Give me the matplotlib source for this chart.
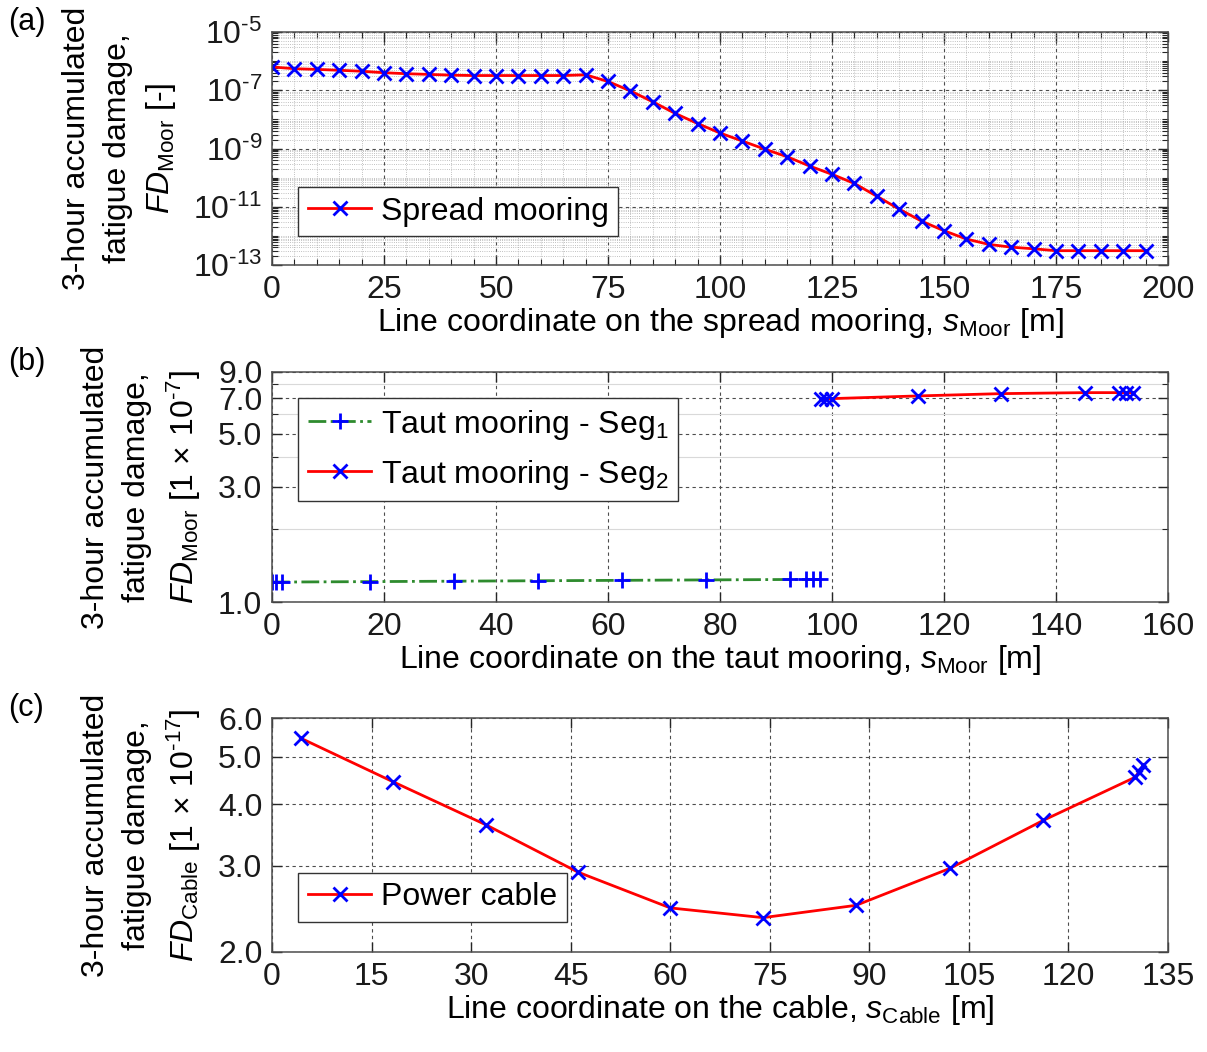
import matplotlib
matplotlib.use("Agg")
import matplotlib.pyplot as plt
from matplotlib.ticker import FixedLocator, NullFormatter, FormatStrFormatter, FuncFormatter
import math

plt.rcParams["font.family"] = ["Liberation Sans", "DejaVu Sans"]
plt.rcParams["mathtext.fontset"] = "custom"
plt.rcParams["mathtext.rm"] = "Liberation Sans"
plt.rcParams["mathtext.it"] = "Liberation Sans:italic"
plt.rcParams["font.size"] = 23

# (a) spread mooring
s_spread = [0, 5, 10, 15, 20, 25, 30, 35, 40, 45, 50, 55, 60, 65, 70, 75, 80, 85, 90, 95,
            100, 105, 110, 115, 120, 125, 130, 135, 140, 145, 150, 155, 160, 165, 170, 175,
            180, 185, 190, 195]
fd_spread = [6.3e-7, 5.5e-7, 5.2e-7, 4.85e-7, 4.5e-7, 4.0e-7, 3.7e-7, 3.5e-7, 3.3e-7, 3.2e-7,
             3.2e-7, 3.2e-7, 3.2e-7, 3.2e-7, 3.4e-7, 2.0e-7, 9.5e-8, 4.0e-8, 1.6e-8, 7.2e-9,
             3.4e-9, 1.8e-9, 9.5e-10, 5.2e-10, 2.5e-10, 1.3e-10, 6.3e-11, 2.3e-11, 8.3e-12, 3.2e-12,
             1.5e-12, 7.8e-13, 5.1e-13, 4.1e-13, 3.6e-13, 3.1e-13, 3.1e-13, 3.1e-13, 3.1e-13, 3.1e-13]

# (b) taut mooring, units of 1e-7
s_seg1 = [0, 0.8, 1.7, 17.5, 32.5, 47.5, 62.5, 77.5, 92.5, 95.3, 96.6, 97.9]
fd_seg1 = [1.21, 1.21, 1.21, 1.215, 1.22, 1.225, 1.23, 1.235, 1.24, 1.24, 1.24, 1.24]
s_seg2 = [98.0, 99.0, 100.0, 115.3, 130.2, 145.1, 151.2, 152.5, 153.8]
fd_seg2 = [6.98, 6.98, 6.98, 7.16, 7.32, 7.39, 7.39, 7.39, 7.39]

# (c) power cable, units of 1e-17
s_cable = [4.3, 18.2, 32.3, 46.1, 60.0, 74.0, 88.0, 102.1, 116.2, 130.0, 130.6, 131.3]
fd_cable = [5.46, 4.45, 3.63, 2.91, 2.46, 2.35, 2.49, 2.96, 3.71, 4.54, 4.65, 4.82]

ylabel_top = "3-hour accumulated\nfatigue damage,\n"


def pow10(v, pos):
    e = int(round(math.log10(v)))
    return r"$10^{\text{%d}}$" % e


fig = plt.figure(figsize=(12.07, 10.52), dpi=100)
left, width = 272 / 1207, 896 / 1207
ax_a = fig.add_axes([left, 1 - 265 / 1052, width, 233 / 1052])
ax_b = fig.add_axes([left, 1 - 602 / 1052, width, 230 / 1052])
ax_c = fig.add_axes([left, 1 - 952 / 1052, width, 234 / 1052])

major_grid = dict(color="0.3", linestyle=(0, (3, 3)), linewidth=0.8)
minor_grid = dict(color="0.68", linestyle=":", linewidth=0.6)

for ax in (ax_a, ax_b, ax_c):
    ax.set_yscale("log")
    ax.tick_params(which="both", direction="in", top=True, right=True, colors="0.15",
                   labelcolor="0.1")
    ax.tick_params(which="major", length=7, width=1, pad=7)
    ax.tick_params(which="minor", length=4, width=0.8)
    for sp in ax.spines.values():
        sp.set_color("0.3")
        sp.set_linewidth(1.1)

mk = dict(ms=10.5, mew=2, mec="blue")
leg = dict(borderaxespad=0, fancybox=False, edgecolor="0.2", framealpha=1,
           handlelength=2.0, borderpad=0.3, handletextpad=0.3)

# ---- (a)
ax_a.plot(s_spread, fd_spread, color="red", lw=2, marker="x", label="Spread mooring", **mk)
ax_a.set_xlim(0, 200)
ax_a.set_ylim(1e-13, 1e-5)
ax_a.set_xticks(range(0, 201, 25))
ax_a.xaxis.set_minor_locator(FixedLocator([x for x in range(0, 201, 5) if x % 25]))
ax_a.yaxis.set_major_locator(FixedLocator([1e-13, 1e-11, 1e-9, 1e-7, 1e-5]))
ax_a.yaxis.set_major_formatter(FuncFormatter(pow10))
minors = [m * 10.0 ** e for e in range(-13, -5) for m in range(1, 10)]
minors = [v for v in minors if v not in (1e-13, 1e-11, 1e-9, 1e-7)]
ax_a.yaxis.set_minor_locator(FixedLocator(minors))
ax_a.yaxis.set_minor_formatter(NullFormatter())
ax_a.grid(which="minor", **minor_grid)
ax_a.grid(which="major", **major_grid)
ax_a.set_axisbelow(True)
ax_a.set_xlabel(r"Line coordinate on the spread mooring, $\it{s}_{\rm Moor}$ [m]", labelpad=1)
ax_a.set_ylabel(ylabel_top + r"$\it{FD}_{\rm Moor}$ [-]", linespacing=1.45)
ax_a.legend(loc="lower left", bbox_to_anchor=(0.029, 0.124), **leg)

# ---- (b)
ax_b.plot(s_seg1, fd_seg1, color="#2e8b2e", lw=2, ls="-.", marker="+",
          label=r"Taut mooring - Seg$_1$", ms=12, mew=2, mec="blue")
ax_b.plot(s_seg2, fd_seg2, color="red", lw=2, marker="x",
          label=r"Taut mooring - Seg$_2$", **mk)
ax_b.set_xlim(0, 160)
ax_b.set_ylim(1.0, 9.0)
ax_b.set_xticks(range(0, 161, 20))
ax_b.yaxis.set_major_locator(FixedLocator([1, 3, 5, 7, 9]))
ax_b.yaxis.set_major_formatter(FormatStrFormatter("%.1f"))
ax_b.yaxis.set_minor_locator(FixedLocator([2, 4, 6, 8]))
ax_b.yaxis.set_minor_formatter(NullFormatter())
ax_b.grid(which="minor", axis="y", color="0.85", linestyle="-", linewidth=0.8)
ax_b.grid(which="major", **major_grid)
ax_b.set_axisbelow(True)
ax_b.set_xlabel(r"Line coordinate on the taut mooring, $\it{s}_{\rm Moor}$ [m]", labelpad=1)
ax_b.set_ylabel(ylabel_top + r"$\it{FD}_{\rm Moor}$ [1$\,\times\,$10$^{\text{-7}}$]",
                linespacing=1.45)
ax_b.legend(loc="upper left", bbox_to_anchor=(0.029, 0.887), labelspacing=0.5, **leg)

# ---- (c)
ax_c.plot(s_cable, fd_cable, color="red", lw=2, marker="x", label="Power cable", **mk)
ax_c.set_xlim(0, 135)
ax_c.set_ylim(2.0, 6.0)
ax_c.set_xticks(range(0, 136, 15))
ax_c.yaxis.set_major_locator(FixedLocator([2, 3, 4, 5, 6]))
ax_c.yaxis.set_major_formatter(FormatStrFormatter("%.1f"))
ax_c.yaxis.set_minor_locator(FixedLocator([]))
ax_c.yaxis.set_minor_formatter(NullFormatter())
ax_c.grid(which="major", **major_grid)
ax_c.set_axisbelow(True)
ax_c.set_xlabel(r"Line coordinate on the cable, $\it{s}_{\rm Cable}$ [m]", labelpad=1)
ax_c.set_ylabel(ylabel_top + r"$\it{FD}_{\rm Cable}$ [1$\,\times\,$10$^{\text{-17}}$]",
                linespacing=1.45)
ax_c.legend(loc="lower left", bbox_to_anchor=(0.029, 0.128), **leg)

ax_a.yaxis.set_label_coords(-0.105, 0.5)
ax_b.yaxis.set_label_coords(-0.077, 0.5)
ax_c.yaxis.set_label_coords(-0.077, 0.5)

fig.text(8 / 1207, 1 - 30 / 1052, "(a)", fontsize=22)
fig.text(8 / 1207, 1 - 370 / 1052, "(b)", fontsize=22)
fig.text(8 / 1207, 1 - 716 / 1052, "(c)", fontsize=22)

fig.savefig("out.png", dpi=100)
